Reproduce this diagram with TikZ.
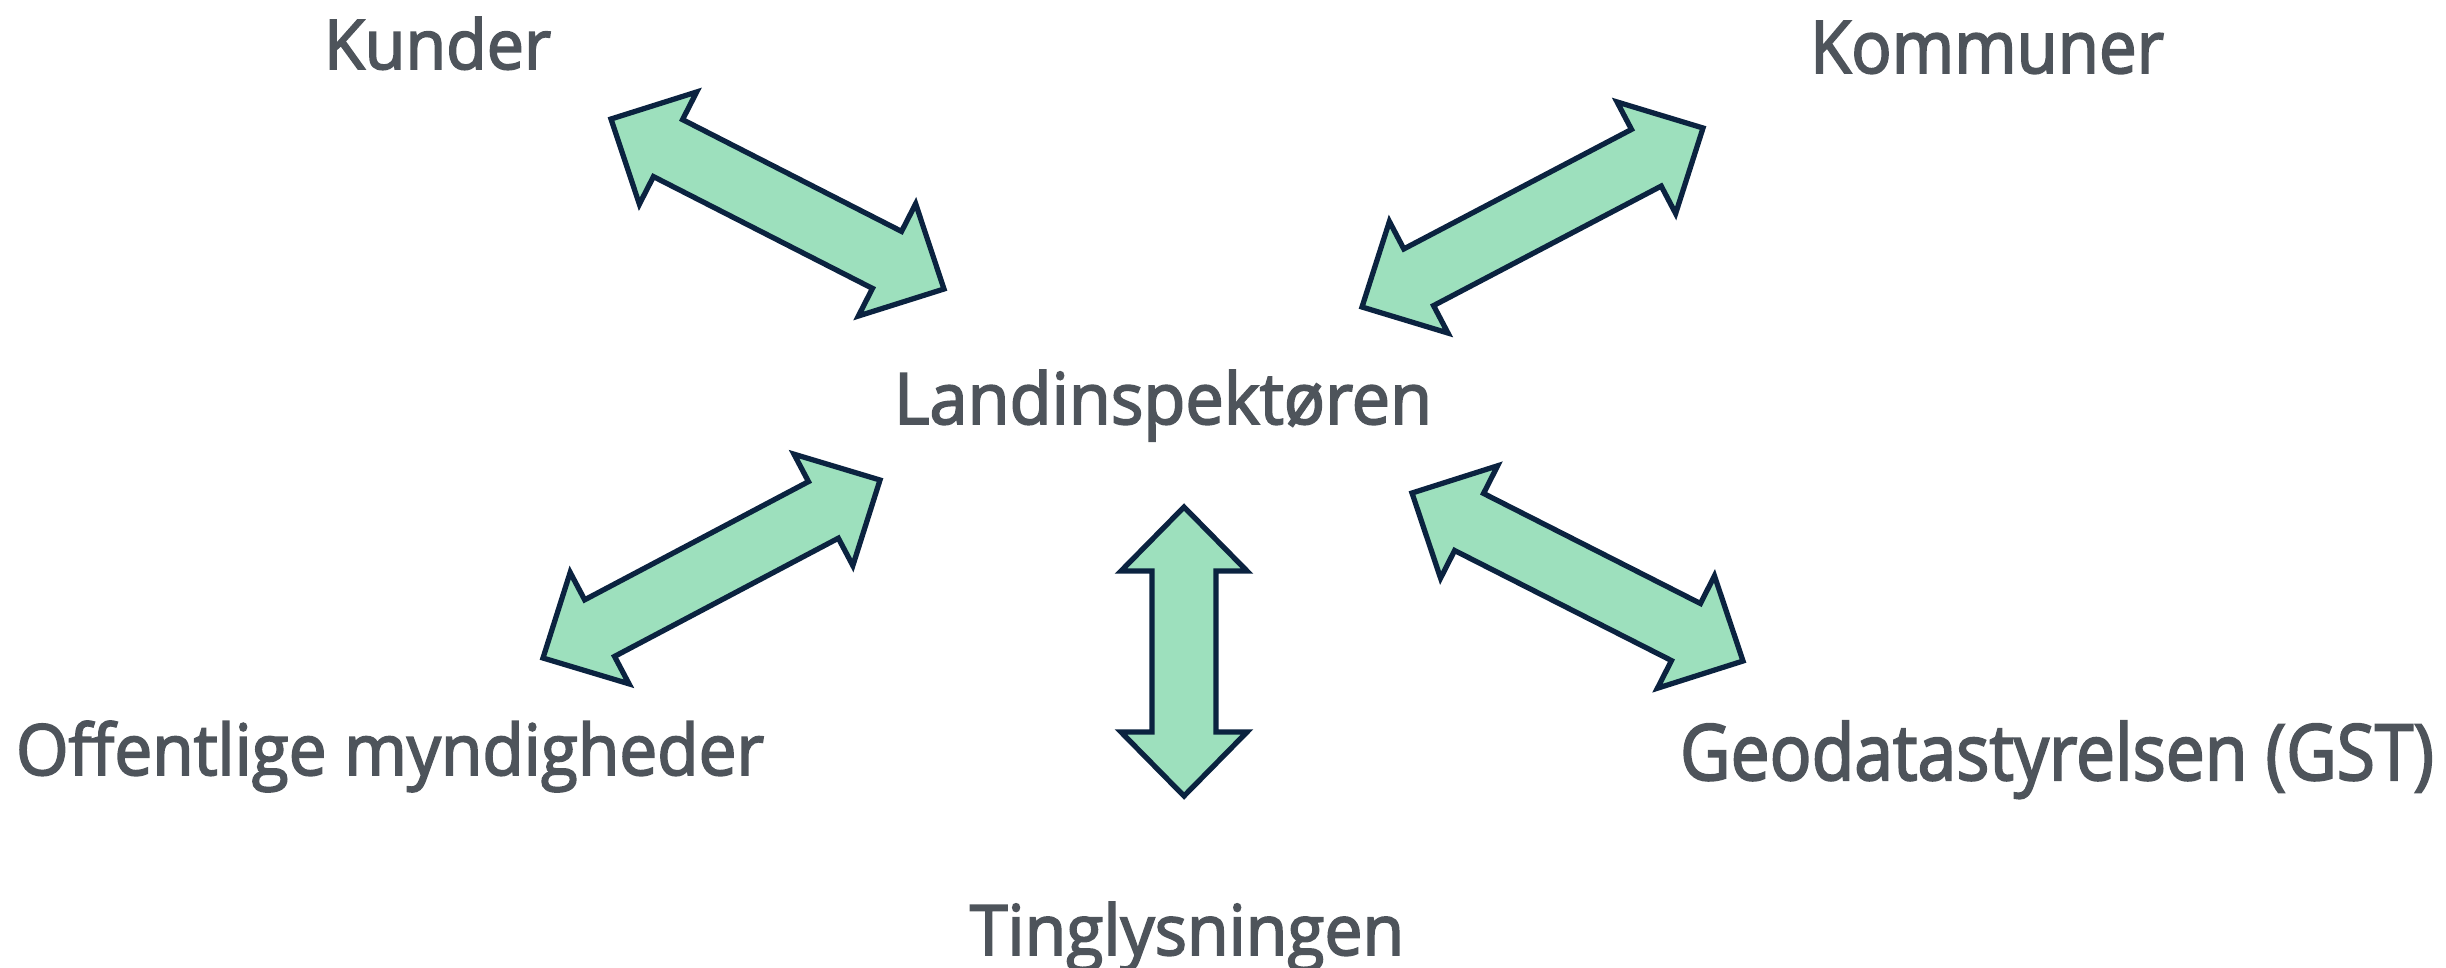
\documentclass[tikz,border=0pt]{standalone}
\usepackage{fontspec}
\setmainfont{Open Sans}
\newfontfamily\lblfont{Open Sans}[FakeBold=2.6]
\usetikzlibrary{calc}
\definecolor{arrowfill}{HTML}{9DE0BD}
\definecolor{arrowline}{HTML}{0B2340}
\definecolor{labeltext}{HTML}{4E545B}
\tikzset{
  lbl/.style={inner sep=0pt, outer sep=0pt, text=labeltext, font=\lblfont\fontsize{22}{24}\selectfont},
  blockarrow/.style={fill=arrowfill, draw=arrowline, line width=1.5pt, line join=miter},
}
\newcommand{\biarrow}[2]{%
  \coordinate (ha) at ($(#1)!0.64cm!(#2)$);
  \coordinate (hb) at ($(#2)!0.64cm!(#1)$);
  \draw[blockarrow] (#1) -- ($(ha)!0.63cm!90:(#1)$) -- ($(ha)!0.32cm!90:(#1)$)
    -- ($(hb)!0.32cm!-90:(#2)$) -- ($(hb)!0.63cm!-90:(#2)$) -- (#2)
    -- ($(hb)!0.63cm!90:(#2)$) -- ($(hb)!0.32cm!90:(#2)$)
    -- ($(ha)!0.32cm!-90:(#1)$) -- ($(ha)!0.63cm!-90:(#1)$) -- cycle;}
\begin{document}
\begin{tikzpicture}
\useasboundingbox (0,0) rectangle (24.46,-9.67);
% labels
\node[lbl, anchor=base west] (kunder) at (3.24,-0.69) {\resizebox{2.27cm}{0.52cm}{Kunder}};
\node[lbl, anchor=base west] (kommuner) at (18.10,-0.73) {\resizebox{3.54cm}{0.52cm}{Kommuner}};
\node[lbl, anchor=base west] (land) at (8.94,-4.24) {\resizebox{5.38cm}{0.54cm}{Landinspektøren}};
\node[lbl, anchor=base west] (offentlige) at (0.16,-7.75) {\resizebox{7.48cm}{0.54cm}{Offentlige myndigheder}};
\node[lbl, anchor=base west] (gst) at (16.80,-7.80) {\resizebox{7.54cm}{0.59cm}{Geodatastyrelsen (GST)}};
\node[lbl, anchor=base west] (ting) at (9.70,-9.55) {\resizebox{4.34cm}{0.53cm}{Tinglysningen}};
% arrow end points
\coordinate (k1) at (6.11,-1.19);
\coordinate (k2) at (9.44,-2.89);
\coordinate (m1) at (13.62,-3.07);
\coordinate (m2) at (17.03,-1.28);
\coordinate (o1) at (5.43,-6.58);
\coordinate (o2) at (8.80,-4.80);
\coordinate (g1) at (14.12,-4.93);
\coordinate (g2) at (17.43,-6.61);
\coordinate (t1) at (11.84,-5.07);
\coordinate (t2) at (11.84,-7.96);
\biarrow{k1}{k2}
\biarrow{m1}{m2}
\biarrow{o1}{o2}
\biarrow{g1}{g2}
\biarrow{t1}{t2}
\end{tikzpicture}
\end{document}
